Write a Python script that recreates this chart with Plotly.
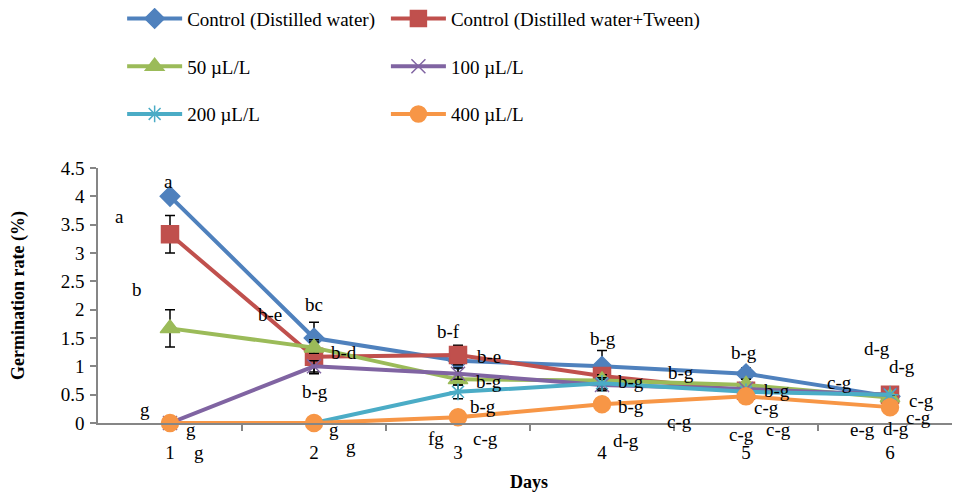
import plotly.graph_objects as go

days = [1, 2, 3, 4, 5, 6]
day_labels = ["1", "2", "3", "4", "5", "6"]

series_names = [
    "Control (Distilled water)",
    "Control (Distilled water+Tween)",
    "50 µL/L",
    "100 µL/L",
    "200 µL/L",
    "400 µL/L",
]
control_dw = [4.0, 1.5, 1.1, 1.0, 0.87, 0.47]
control_tween = [3.33, 1.17, 1.2, 0.83, 0.57, 0.5]
ul50 = [1.67, 1.33, 0.77, 0.75, 0.67, 0.45]
ul100 = [0.0, 1.0, 0.87, 0.67, 0.6, 0.5]
ul200 = [0.0, 0.0, 0.55, 0.7, 0.55, 0.5]
ul400 = [0.0, 0.0, 0.1, 0.33, 0.47, 0.28]

err_dw = [0.0, 0.28, 0.1, 0.28, 0.1, 0.0]
err_tween = [0.33, 0.3, 0.17, 0.1, 0.1, 0.0]
err_50 = [0.33, 0.1, 0.1, 0.1, 0.1, 0.0]
err_100 = [0.0, 0.1, 0.1, 0.1, 0.0, 0.0]
err_200 = [0.0, 0.0, 0.12, 0.1, 0.0, 0.0]
err_400 = [0.0, 0.0, 0.0, 0.0, 0.1, 0.0]

# significance letters: (text, x in day units, y as fraction of plot height)
letters = [
    ("a", 0.993, 0.949), ("a", 0.646, 0.808), ("b", 0.771, 0.522),
    ("g", 0.826, 0.051), ("g", 1.146, -0.027), ("g", 1.201, -0.114),
    ("b-e", 1.694, 0.427), ("bc", 2.0, 0.463), ("b-d", 2.208, 0.278),
    ("b-g", 2.007, 0.125), ("g", 2.139, -0.027), ("g", 2.257, -0.094),
    ("b-f", 2.931, 0.357), ("b-e", 3.215, 0.259), ("b-g", 3.215, 0.161),
    ("b-g", 3.174, 0.063), ("fg", 2.847, -0.059), ("c-g", 3.188, -0.059),
    ("b-g", 4.007, 0.333), ("b-g", 4.201, 0.161), ("b-g", 4.201, 0.063),
    ("b-g", 4.549, 0.2), ("c-g", 4.535, 0.004), ("d-g", 4.167, -0.067),
    ("b-g", 4.986, 0.278), ("c-g", 4.972, -0.047), ("b-g", 5.215, 0.129),
    ("c-g", 5.139, 0.059), ("c-g", 5.229, -0.027), ("c-g", 5.646, 0.157),
    ("d-g", 5.91, 0.294), ("d-g", 6.083, 0.22), ("c-g", 6.222, 0.09),
    ("c-g", 6.201, 0.02), ("e-g", 5.806, -0.027), ("d-g", 6.042, -0.02),
]

values = [control_dw, control_tween, ul50, ul100, ul200, ul400]
errors = [err_dw, err_tween, err_50, err_100, err_200, err_400]
colors = ["#4F81BD", "#C0504D", "#9BBB59", "#8064A2", "#4BACC6", "#F79646"]
symbols = ["diamond", "square", "triangle-up", "x-thin-open", "asterisk-open", "circle"]
sizes = [15, 17, 17, 14, 14, 17]
legend_ids = ["legend", "legend2", "legend", "legend2", "legend", "legend2"]

FONT = "Liberation Serif"
FS = 19

fig = go.Figure()
for i, name in enumerate(series_names):
    fig.add_trace(go.Scatter(
        x=days, y=values[i], name=name, mode="lines+markers",
        line=dict(color=colors[i], width=4),
        marker=dict(symbol=symbols[i], size=sizes[i], color=colors[i],
                    line=dict(color=colors[i], width=1.5)),
        error_y=dict(type="data", array=errors[i], color="black",
                     thickness=1.5, width=5),
        legend=legend_ids[i], legendgroup=name,
        cliponaxis=False,
    ))

for txt, xx, yy in letters:
    fig.add_annotation(text=txt, x=xx, y=yy, xref="x", yref="paper",
                       xanchor="center", yanchor="middle",
                       showarrow=False, font=dict(family=FONT, size=FS, color="black"))

legend_common = dict(
    orientation="v", yanchor="top", xanchor="left",
    font=dict(family=FONT, size=FS, color="black"),
    bgcolor="rgba(0,0,0,0)", itemwidth=55, tracegroupgap=20,
    traceorder="grouped",
)

fig.update_layout(
    width=952, height=484,
    margin=dict(l=90, r=0, t=160, b=69, autoexpand=False),
    paper_bgcolor="white", plot_bgcolor="white",
    font=dict(family=FONT, size=FS, color="black"),
    showlegend=True,
    legend=dict(x=0.028, y=1.66, **legend_common),
    legend2=dict(x=0.334, y=1.66, **legend_common),
    xaxis=dict(
        range=[0.5, 6.486], tickmode="array", tickvals=days, ticktext=day_labels,
        ticks="", showgrid=False, zeroline=False,
        showline=True, linecolor="#868686", linewidth=1.5,
        minor=dict(tickmode="array", tickvals=[1.5, 2.5, 3.5, 4.5, 5.5],
                   ticks="outside", ticklen=6, tickcolor="#868686", tickwidth=1.5),
        ticklabelstandoff=11,
        tickfont=dict(family=FONT, size=FS, color="black"),
        title=dict(text="<b>Days</b>", font=dict(family=FONT, size=FS - 1, color="black"), standoff=14),
    ),
    yaxis=dict(
        range=[0, 4.5], tickmode="array", tickvals=[0, 0.5, 1, 1.5, 2, 2.5, 3, 3.5, 4, 4.5],
        ticktext=["0", "0.5", "1", "1.5", "2", "2.5", "3", "3.5", "4", "4.5"],
        ticks="outside", ticklen=6, tickcolor="#868686", tickwidth=1.5,
        showgrid=False, zeroline=False,
        showline=True, linecolor="#868686", linewidth=1.5,
        tickfont=dict(family=FONT, size=FS, color="black"),
        ticklabelstandoff=2,
        title=dict(text="<b>Germination rate (%)</b>", font=dict(family=FONT, size=FS - 1, color="black"), standoff=33),
    ),
)

fig.write_html("out.html")
